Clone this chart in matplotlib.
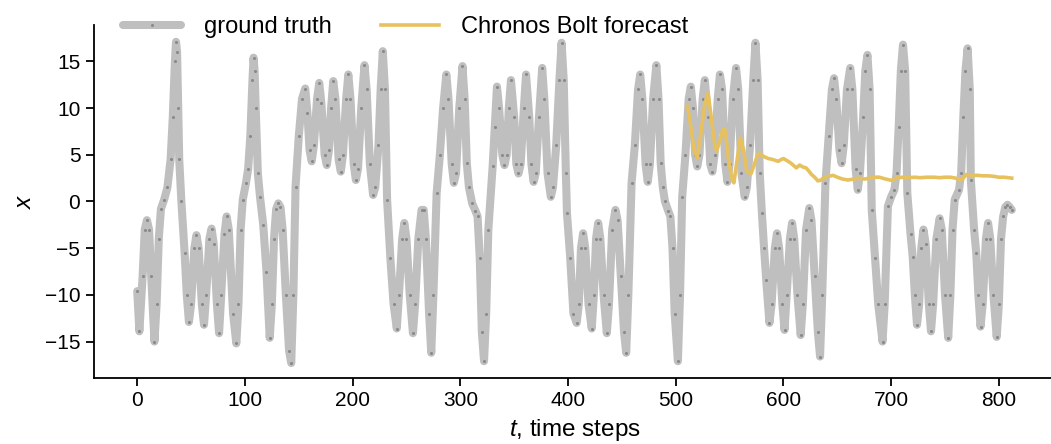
import numpy as np
import matplotlib.pyplot as plt

plt.rcParams['font.family'] = ['Liberation Sans', 'DejaVu Sans']
plt.rcParams['mathtext.fontset'] = 'custom'
plt.rcParams['mathtext.it'] = 'Liberation Sans:italic'
plt.rcParams['mathtext.rm'] = 'Liberation Sans'

#%% ground truth: time step, x
t_true = [0, 2, 5, 7, 9, 11, 13, 16, 18, 20, 22, 25, 28, 31, 33, 35, 36, 37, 38, 39,
          41, 44, 46, 48, 50, 53, 55, 57, 60, 62, 64, 67, 69, 71, 74, 76, 78, 81, 83, 85,
          89, 92, 94, 96, 98, 101, 103, 105, 107, 108, 109, 110, 112, 114, 117, 120, 123, 125, 127, 129,
          131, 133, 135, 138, 141, 143, 145, 147, 150, 153, 156, 158, 160, 162, 164, 167, 169, 171, 174, 176,
          178, 180, 182, 184, 187, 189, 191, 194, 196, 198, 201, 203, 205, 208, 211, 213, 216, 219, 221, 224,
          226, 228, 230, 232, 235, 238, 241, 243, 246, 248, 250, 253, 256, 258, 261, 264, 266, 268, 271, 273,
          275, 278, 281, 284, 287, 289, 292, 294, 296, 299, 302, 304, 306, 308, 311, 314, 316, 318, 320, 322,
          324, 326, 330, 332, 334, 336, 339, 341, 343, 345, 347, 350, 352, 354, 356, 359, 361, 364, 366, 368,
          370, 373, 376, 378, 381, 384, 386, 389, 392, 394, 396, 398, 399, 402, 405, 408, 410, 412, 414, 416,
          419, 422, 424, 426, 428, 430, 433, 436, 438, 441, 444, 446, 449, 452, 454, 456, 459, 462, 465, 467,
          469, 472, 474, 476, 479, 482, 484, 486, 488, 490, 493, 495, 497, 499, 502, 504, 506, 509, 512, 514,
          516, 518, 520, 522, 525, 527, 530, 532, 534, 536, 539, 541, 543, 546, 548, 550, 553, 556, 558, 561,
          564, 566, 569, 572, 574, 576, 578, 580, 582, 584, 587, 589, 592, 594, 596, 599, 601, 603, 606, 608,
          610, 613, 616, 618, 621, 624, 626, 629, 632, 634, 636, 639, 642, 645, 647, 649, 652, 654, 656, 659,
          662, 664, 667, 669, 671, 674, 676, 678, 680, 682, 685, 688, 692, 694, 697, 700, 703, 705, 707, 709,
          711, 713, 715, 718, 720, 722, 724, 726, 728, 730, 732, 735, 737, 739, 742, 745, 747, 750, 753, 755,
          757, 759, 763, 765, 767, 769, 771, 773, 774, 777, 779, 781, 783, 785, 788, 790, 792, 795, 798, 800,
          802, 804, 806, 808, 810, 812]
x_true = [-9.6, -13.9, -8, -3, -2.0, -3, -8, -15.0, -11, -4, -0.8, 0.2, 1.5, 4.5, 9, 15, 17.1, 16, 10, 4.5,
          0, -5.5, -10, -12.9, -11, -5, -3.6, -5, -11, -13.2, -10, -4, -2.9, -4.5, -11, -14.1, -10, -3.5, -1.6, -3,
          -12, -15.2, -11, -3, 0.2, 2, 3.5, 7, 13, 15.4, 14, 10, 3.0, 0.5, -2.5, -7.5, -14.6, -11, -4, -0.8,
          -0.2, -0.6, -3, -10, -16, -17.3, -10, 1.6, 7, 11, 12.1, 9.5, 5.5, 4.3, 6, 11, 12.7, 10.5, 5, 3.9,
          5.5, 10, 12.9, 11, 4.5, 3.2, 5, 11, 13.6, 11, 4, 2.3, 3.5, 10, 14.6, 12, 4, 0.7, 1.5, 6,
          12, 16.1, 12, 0.2, -6, -11, -13.6, -10, -4, -2.3, -4, -10, -14.1, -11, -4, -0.9, -0.9, -4, -12, -16.2,
          -10, 0.9, 5, 10, 13.6, 11, 4, 2.0, 3, 10, 14.5, 11, 4.1, 1.5, -0.2, -1.0, -1.6, -6, -14, -17.1,
          -12, -3, 3.75, 8, 12.3, 10, 5, 3.9, 5, 10, 13.0, 9, 4, 3.0, 4, 10, 13.6, 9, 4, 2.1,
          3, 9, 14.3, 11, 3, 0.5, 1.5, 6, 13, 17.0, 13, 3, -1.25, -6, -12, -13.0, -11, -5, -3.4, -5,
          -11, -13.6, -10, -4, -2.3, -4, -10, -14.1, -11, -3, -0.9, -2, -8, -14, -16.2, -10, 2.0, 6, 12, 13.6,
          11, 4, 2.1, 4, 11, 14.6, 11, 4.1, 1.5, 0, -1.0, -1.6, -5, -12, -17.1, -10, 0.5, 5, 11, 12.3,
          10, 5, 3.75, 5, 11, 13.0, 9, 4, 3.2, 5, 11, 13.6, 12, 4, 2.1, 4, 11, 14.3, 12, 3,
          0.5, 1.5, 6, 13, 17.0, 13, 3, -1.25, -5, -8.4, -13.0, -11, -5, -3.4, -5, -11, -13.75, -10, -4, -2.3,
          -4, -10, -14.3, -11, -3, -0.7, -2, -8, -14, -16.6, -10, 2.0, 7, 12, 13.2, 11, 5.5, 4.1, 6, 12,
          14.3, 12, 3.5, 1.25, 3, 9, 14, 15.7, 12, -0.9, -6, -11, -15.0, -11, -0.5, 0.5, 1.25, 3, 8, 14,
          16.8, 14, 0.9, -3.5, -5.9, -10, -13.2, -11, -5, -3.0, -4.5, -11, -13.9, -11, -4, -1.8, -3, -10, -14.6, -10,
          -3, 0.2, 1.25, 3, 9, 14, 16.4, 12, 2.3, -3, -5.5, -10, -13.4, -11, -4, -2.3, -4, -10, -14.5, -11,
          -4, -1.6, -0.6, -0.35, -0.6, -0.9]

#%% Chronos Bolt forecast
t_fc = [511, 514, 517, 520, 523, 527, 530, 533, 536, 538, 541, 544, 546, 549, 552, 554, 557, 560, 563, 566,
        570, 573, 576, 578, 582, 586, 590, 595, 598, 600, 603, 607, 610, 612, 615, 618, 621, 624, 626, 629,
        632, 635, 638, 642, 646, 650, 655, 660, 665, 670, 675, 680, 685, 689, 695, 701, 705, 710, 716, 722,
        727, 733, 740, 745, 750, 755, 760, 763, 766, 770, 775, 780, 785, 790, 795, 800, 805, 812]
x_fc = [10.2, 8.0, 5.5, 4.7, 7.0, 10.5, 11.6, 9.0, 6.2, 5.4, 6.5, 7.8, 7.6, 4.5, 2.5, 2.0, 4.5, 6.8, 5.5, 3.2,
        3.0, 4.0, 5.0, 5.1, 4.8, 4.6, 4.5, 4.3, 4.5, 4.6, 4.4, 4.1, 3.8, 3.6, 3.9, 3.7, 3.6, 3.2, 2.9, 2.6,
        2.2, 2.3, 2.6, 2.7, 2.8, 2.6, 2.4, 2.3, 2.4, 2.5, 2.4, 2.5, 2.6, 2.6, 2.4, 2.25, 2.5, 2.6, 2.55, 2.6,
        2.55, 2.6, 2.6, 2.55, 2.6, 2.6, 2.5, 2.3, 2.4, 2.9, 2.8, 2.8, 2.75, 2.75, 2.7, 2.6, 2.6, 2.5]

gris = '#bfbfbf'
amarillo = '#e6c15e'

fig = plt.figure(figsize=(10.51, 4.44), dpi=100)
ax = fig.add_axes([93.5/1051, 66/444, 962/1051, 353/444])

ax.plot(t_true, x_true, color=gris, lw=5.8, solid_capstyle='round', solid_joinstyle='round',
        marker='o', ms=2.2, mfc='#8a8a8a', mec='none', label='ground truth')
ax.plot(t_fc, x_fc, color=amarillo, lw=2.6, solid_joinstyle='round', label='Chronos Bolt forecast')

ax.set_xlim(-40.6, 852.6)
ax.set_ylim(-18.9, 18.9)
ax.set_xticks(np.arange(0, 801, 100))
ax.set_yticks([-15, -10, -5, 0, 5, 10, 15])
ax.tick_params(labelsize=15, length=6, width=1.3, direction='out')
for s in ['top', 'right']:
    ax.spines[s].set_visible(False)
for s in ['left', 'bottom']:
    ax.spines[s].set_linewidth(1.3)

ax.set_xlabel('$t$, time steps', fontsize=17.5, labelpad=5)
ax.set_ylabel('$x$', fontsize=17.5, labelpad=6)

leg = fig.legend(loc='upper left', bbox_to_anchor=(102/1051, 1.012), ncol=2, frameon=False,
                 fontsize=17, handlelength=2.45, columnspacing=2.1, handletextpad=0.95)
leg.get_lines()[0].set_linewidth(5.8)

plt.savefig('out.png', dpi=100)
